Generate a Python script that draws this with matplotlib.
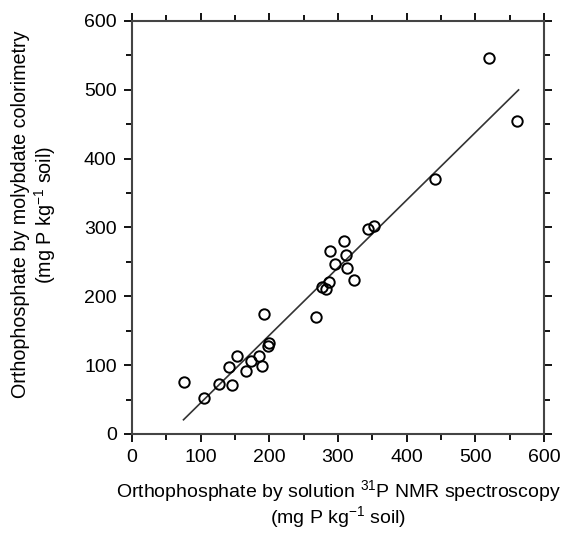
import matplotlib
matplotlib.use('Agg')
import matplotlib.pyplot as plt
import numpy as np
from matplotlib.ticker import MultipleLocator

plt.rcParams['font.family'] = ['Liberation Sans', 'DejaVu Sans']
plt.rcParams['mathtext.default'] = 'regular'

# orthophosphate, mg P/kg soil: NMR (x) vs molybdate colorimetry (y)
nmr_p = [76, 105, 127, 146, 141, 153, 166, 173, 185, 189, 192, 200, 198,
         268, 276, 283, 287, 288, 296, 309, 311, 313, 324, 343, 352,
         441, 520, 560]
moly_p = [75, 53, 72, 71, 97, 114, 92, 106, 113, 99, 175, 132, 128,
          170, 213, 210, 221, 266, 247, 280, 260, 241, 224, 298, 302,
          371, 546, 455]

# regression line
fit_slope = 0.982
fit_intercept = -53.0
fit_x_range = [75, 563]

x_ticks = [0, 100, 200, 300, 400, 500, 600]
y_ticks = [0, 100, 200, 300, 400, 500, 600]


def main():
    fig = plt.figure(figsize=(5.68, 5.34), dpi=100)
    ax = fig.add_axes([0.2324, 0.1873, 0.7253, 0.7734])

    fx = np.array(fit_x_range)
    ax.plot(fx, fit_slope * fx + fit_intercept, color='#333333', lw=1.2, zorder=2)
    ax.plot(nmr_p, moly_p, 'o', ms=7.5, mfc='none', mec='black', mew=1.4, zorder=3)

    ax.set_xlim(0, 600)
    ax.set_ylim(0, 600)
    ax.set_xticks(x_ticks)
    ax.set_yticks(y_ticks)
    ax.xaxis.set_minor_locator(MultipleLocator(50))
    ax.yaxis.set_minor_locator(MultipleLocator(50))
    ax.tick_params(which='both', direction='out', top=True, right=True,
                   labeltop=False, labelright=False, labelsize=14, width=1.3, color='black')
    ax.tick_params(which='major', length=6, pad=5)
    ax.tick_params(which='minor', length=4)
    for side in ['left', 'right', 'top', 'bottom']:
        ax.spines[side].set_linewidth(1.5)
        ax.spines[side].set_color('#444444')

    fig.text(0.595, 0.056, 'Orthophosphate by solution $^{31}$P NMR spectroscopy\n(mg P kg$^{-1}$ soil)',
             ha='center', va='center', fontsize=14, linespacing=1.05)
    fig.text(0.060, 0.598, 'Orthophosphate by molybdate colorimetry\n(mg P kg$^{-1}$ soil)',
             ha='center', va='center', rotation=90, fontsize=14.2, linespacing=1.1)

    fig.savefig('out.png', dpi=100, facecolor='white')


if __name__ == '__main__':
    main()
